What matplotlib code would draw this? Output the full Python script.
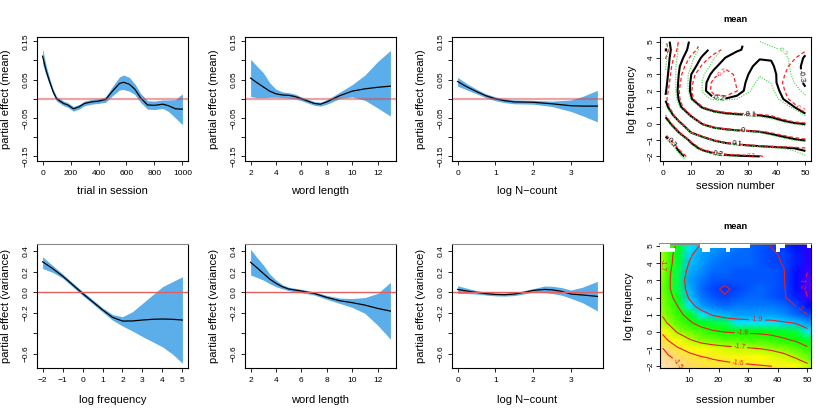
import numpy as np
import matplotlib
matplotlib.use("Agg")
import matplotlib.pyplot as plt
from matplotlib.colors import ListedColormap, Normalize, hsv_to_rgb
from matplotlib.image import NonUniformImage
from matplotlib.patches import Rectangle

plt.rcParams['font.family'] = ['Liberation Sans', 'DejaVu Sans']
plt.rcParams['contour.negative_linestyle'] = 'solid'

# ---- partial effects, mean (top row) ----
trial = [0, 25, 50, 75, 100, 150, 180, 220, 260, 300, 350, 400, 450, 500,
         550, 580, 620, 660, 700, 750, 800, 860, 900, 950, 1000]
trial_fit = [0.111, 0.074, 0.045, 0.019, 0.0, -0.012, -0.016, -0.026, -0.021, -0.012,
             -0.008, -0.006, -0.002, 0.02, 0.04, 0.043, 0.038, 0.025, 0.003, -0.016,
             -0.017, -0.014, -0.018, -0.026, -0.027]
trial_hi = [0.131, 0.087, 0.054, 0.026, 0.006, -0.006, -0.010, -0.020, -0.015, -0.006,
            -0.002, 0.0, 0.005, 0.032, 0.057, 0.062, 0.056, 0.039, 0.015, -0.005,
            -0.006, -0.003, -0.003, -0.002, 0.013]
trial_lo = [0.091, 0.061, 0.036, 0.012, -0.006, -0.018, -0.022, -0.032, -0.027, -0.018,
            -0.014, -0.012, -0.009, 0.008, 0.023, 0.024, 0.020, 0.011, -0.009, -0.027,
            -0.028, -0.025, -0.033, -0.050, -0.067]

wlen = [2, 2.5, 3, 3.5, 4, 4.5, 5, 5.5, 6, 6.5, 7, 7.5, 8, 8.5, 9, 10, 11, 12, 13]
wlen_fit = [0.054, 0.042, 0.031, 0.02, 0.013, 0.01, 0.009, 0.006, 0.0, -0.006, -0.012,
            -0.014, -0.008, 0.0, 0.008, 0.02, 0.026, 0.03, 0.033]
wlen_hi = [0.103, 0.085, 0.068, 0.042, 0.025, 0.018, 0.016, 0.012, 0.005, -0.001, -0.007,
           -0.009, -0.002, 0.007, 0.017, 0.037, 0.062, 0.097, 0.126]
wlen_lo = [0.006, 0.003, 0.003, 0.004, 0.004, 0.003, 0.002, 0.0, -0.005, -0.011, -0.017,
           -0.019, -0.014, -0.007, 0.001, 0.005, -0.004, -0.024, -0.045]

ncount = [0, 0.25, 0.5, 0.75, 1, 1.25, 1.5, 2, 2.5, 3, 3.3, 3.7]
ncount_fit = [0.045, 0.031, 0.019, 0.008, 0.0, -0.005, -0.008, -0.009, -0.013, -0.018, -0.019, -0.019]
ncount_hi = [0.056, 0.039, 0.025, 0.013, 0.005, 0.0, -0.003, -0.004, -0.006, -0.003, 0.006, 0.022]
ncount_lo = [0.033, 0.023, 0.013, 0.003, -0.005, -0.010, -0.013, -0.014, -0.02, -0.033, -0.044, -0.06]

# ---- partial effects, variance (bottom row) ----
lfreq = [-2, -1.5, -1, -0.5, 0, 0.5, 1, 1.5, 2, 2.5, 3, 3.5, 4, 4.5, 5]
lfreq_fit = [0.298, 0.232, 0.159, 0.075, -0.01, -0.09, -0.17, -0.243, -0.279, -0.278,
             -0.269, -0.262, -0.259, -0.262, -0.269]
lfreq_hi = [0.347, 0.262, 0.18, 0.095, 0.01, -0.07, -0.15, -0.215, -0.237, -0.188,
            -0.107, -0.026, 0.055, 0.104, 0.152]
lfreq_lo = [0.233, 0.195, 0.14, 0.055, -0.03, -0.11, -0.19, -0.27, -0.327, -0.376,
            -0.43, -0.48, -0.53, -0.6, -0.69]

wlen_v = [2, 2.5, 3, 3.5, 4, 4.5, 5, 6, 7, 8, 9, 10, 11, 12, 13]
wlen_v_fit = [0.293, 0.24, 0.185, 0.13, 0.088, 0.055, 0.033, 0.013, -0.01, -0.049,
              -0.081, -0.1, -0.124, -0.156, -0.182]
wlen_v_hi = [0.42, 0.34, 0.267, 0.18, 0.12, 0.075, 0.05, 0.03, 0.005, -0.03,
             -0.055, -0.06, -0.05, -0.01, 0.098]
wlen_v_lo = [0.169, 0.145, 0.12, 0.085, 0.055, 0.035, 0.017, -0.004, -0.025, -0.068,
             -0.107, -0.146, -0.205, -0.32, -0.455]

ncount_v = [0, 0.25, 0.5, 0.75, 1, 1.25, 1.5, 1.75, 2, 2.3, 2.5, 2.75, 3, 3.3, 3.7]
ncount_v_fit = [0.029, 0.013, 0.0, -0.012, -0.02, -0.022, -0.016, 0.0, 0.019, 0.029,
                0.025, 0.01, -0.016, -0.025, -0.039]
ncount_v_hi = [0.065, 0.04, 0.018, 0.004, -0.005, -0.007, -0.001, 0.016, 0.036, 0.062,
               0.06, 0.047, 0.023, 0.05, 0.107]
ncount_v_lo = [-0.01, -0.012, -0.016, -0.026, -0.034, -0.036, -0.031, -0.016, 0.002,
               -0.003, -0.01, -0.027, -0.058, -0.1, -0.18]

# ---- session x log frequency surfaces ----
sess_grid = [1, 3, 6, 10, 14, 18, 22, 26, 30, 34, 38, 42, 46, 50]
freq_grid = [-2, -1.5, -1, -0.5, 0, 0.5, 1, 1.5, 2, 2.5, 3, 3.5, 4, 4.5, 5]

te_fit = [
    [0.37, 0.35, 0.315, 0.275, 0.245, 0.222, 0.212, 0.207, 0.203, 0.2, 0.17, 0.15, 0.135, 0.12],
    [0.345, 0.325, 0.285, 0.225, 0.185, 0.16, 0.145, 0.135, 0.127, 0.12, 0.114, 0.108, 0.1, 0.09],
    [0.315, 0.29, 0.245, 0.185, 0.13, 0.095, 0.075, 0.06, 0.048, 0.038, 0.028, 0.018, 0.006, -0.005],
    [0.28, 0.24, 0.19, 0.09, 0.05, 0.03, 0.02, 0.012, 0.007, 0.0, -0.01, -0.025, -0.04, -0.055],
    [0.235, 0.195, 0.11, 0.045, -0.005, -0.03, -0.045, -0.055, -0.062, -0.068, -0.075, -0.085, -0.095, -0.104],
    [0.19, 0.115, 0.05, -0.006, -0.045, -0.072, -0.086, -0.093, -0.097, -0.1, -0.107, -0.125, -0.155, -0.19],
    [0.12, 0.075, 0.008, -0.055, -0.105, -0.13, -0.14, -0.14, -0.14, -0.142, -0.148, -0.17, -0.198, -0.235],
    [0.095, 0.05, -0.01, -0.095, -0.175, -0.197, -0.198, -0.19, -0.175, -0.165, -0.17, -0.198, -0.23, -0.265],
    [0.105, 0.055, -0.02, -0.11, -0.19, -0.225, -0.235, -0.215, -0.19, -0.17, -0.175, -0.21, -0.255, -0.29],
    [0.115, 0.06, -0.015, -0.108, -0.185, -0.23, -0.245, -0.215, -0.195, -0.17, -0.178, -0.225, -0.27, -0.31],
    [0.125, 0.065, -0.01, -0.1, -0.17, -0.215, -0.235, -0.22, -0.2, -0.175, -0.18, -0.225, -0.275, -0.315],
    [0.14, 0.07, 0.0, -0.07, -0.14, -0.19, -0.225, -0.23, -0.21, -0.185, -0.192, -0.225, -0.27, -0.32],
    [0.16, 0.075, 0.02, -0.05, -0.11, -0.16, -0.202, -0.22, -0.215, -0.203, -0.204, -0.215, -0.26, -0.31],
    [0.21, 0.09, 0.035, -0.02, -0.075, -0.125, -0.165, -0.195, -0.208, -0.21, -0.215, -0.225, -0.25, -0.28],
    [0.15, 0.08, 0.04, -0.01, -0.065, -0.11, -0.15, -0.185, -0.205, -0.215, -0.225, -0.235, -0.25, -0.27],
]
te_se = [
    [0.012, 0.01, 0.008, 0.007, 0.007, 0.007, 0.007, 0.007, 0.007, 0.008, 0.009, 0.01, 0.012, 0.016],
    [0.01, 0.008, 0.007, 0.006, 0.005, 0.005, 0.005, 0.005, 0.005, 0.006, 0.007, 0.008, 0.01, 0.013],
    [0.009, 0.007, 0.006, 0.005, 0.004, 0.004, 0.004, 0.004, 0.004, 0.005, 0.006, 0.007, 0.008, 0.011],
    [0.009, 0.007, 0.005, 0.004, 0.004, 0.004, 0.004, 0.004, 0.004, 0.004, 0.005, 0.006, 0.007, 0.01],
    [0.01, 0.007, 0.005, 0.004, 0.004, 0.004, 0.004, 0.004, 0.004, 0.004, 0.005, 0.006, 0.007, 0.01],
    [0.011, 0.008, 0.006, 0.005, 0.005, 0.005, 0.005, 0.005, 0.005, 0.005, 0.006, 0.007, 0.009, 0.012],
    [0.013, 0.01, 0.008, 0.007, 0.007, 0.007, 0.007, 0.007, 0.007, 0.007, 0.008, 0.009, 0.011, 0.015],
    [0.016, 0.013, 0.011, 0.01, 0.01, 0.01, 0.01, 0.01, 0.01, 0.01, 0.011, 0.013, 0.015, 0.02],
    [0.02, 0.017, 0.015, 0.014, 0.014, 0.014, 0.014, 0.014, 0.014, 0.015, 0.016, 0.018, 0.021, 0.027],
    [0.025, 0.022, 0.02, 0.019, 0.019, 0.019, 0.019, 0.019, 0.02, 0.021, 0.023, 0.025, 0.029, 0.036],
    [0.03, 0.027, 0.025, 0.024, 0.024, 0.024, 0.024, 0.025, 0.026, 0.028, 0.031, 0.034, 0.039, 0.047],
    [0.036, 0.033, 0.031, 0.03, 0.03, 0.03, 0.031, 0.032, 0.034, 0.037, 0.041, 0.045, 0.05, 0.058],
    [0.043, 0.04, 0.038, 0.037, 0.037, 0.038, 0.04, 0.042, 0.045, 0.05, 0.055, 0.06, 0.066, 0.072],
    [0.05, 0.047, 0.045, 0.045, 0.046, 0.048, 0.051, 0.055, 0.06, 0.066, 0.072, 0.078, 0.083, 0.088],
    [0.058, 0.055, 0.053, 0.054, 0.056, 0.06, 0.065, 0.07, 0.077, 0.085, 0.092, 0.098, 0.103, 0.108],
]
# grid nodes (row, session) with no data in the partial-effect plot
te_missing = [(14, 14), (14, 18), (14, 22), (14, 26)]

fitted_mean = [
    [-1.43, -1.455, -1.495, -1.535, -1.555, -1.57, -1.578, -1.584, -1.589, -1.594, -1.60, -1.62, -1.645, -1.68],
    [-1.46, -1.485, -1.52, -1.565, -1.592, -1.607, -1.617, -1.625, -1.632, -1.64, -1.652, -1.672, -1.703, -1.74],
    [-1.492, -1.535, -1.585, -1.625, -1.648, -1.662, -1.672, -1.68, -1.688, -1.697, -1.71, -1.728, -1.752, -1.785],
    [-1.575, -1.602, -1.648, -1.69, -1.72, -1.738, -1.75, -1.758, -1.765, -1.77, -1.776, -1.788, -1.805, -1.835],
    [-1.61, -1.655, -1.705, -1.745, -1.772, -1.79, -1.801, -1.805, -1.807, -1.809, -1.815, -1.83, -1.85, -1.88],
    [-1.68, -1.705, -1.75, -1.788, -1.82, -1.845, -1.862, -1.872, -1.877, -1.879, -1.882, -1.89, -1.90, -1.93],
    [-1.705, -1.735, -1.78, -1.82, -1.87, -1.905, -1.92, -1.927, -1.93, -1.93, -1.932, -1.945, -1.968, -1.998],
    [-1.72, -1.75, -1.798, -1.875, -1.925, -1.955, -1.965, -1.963, -1.96, -1.96, -1.963, -1.975, -2.0, -2.045],
    [-1.73, -1.77, -1.83, -1.905, -1.955, -1.985, -1.996, -1.988, -1.978, -1.975, -1.98, -1.993, -2.03, -2.098],
    [-1.735, -1.785, -1.855, -1.92, -1.967, -1.992, -2.006, -1.993, -1.982, -1.978, -1.982, -1.995, -2.04, -2.115],
    [-1.725, -1.785, -1.86, -1.925, -1.96, -1.982, -1.991, -1.988, -1.982, -1.98, -1.985, -1.997, -2.04, -2.115],
    [-1.712, -1.78, -1.855, -1.915, -1.95, -1.97, -1.978, -1.98, -1.98, -1.982, -1.988, -1.998, -2.035, -2.098],
    [-1.695, -1.77, -1.84, -1.902, -1.935, -1.955, -1.965, -1.972, -1.978, -1.985, -1.992, -2.002, -2.03, -2.08],
    [-1.708, -1.77, -1.83, -1.89, -1.925, -1.945, -1.958, -1.968, -1.977, -1.986, -1.995, -2.005, -2.03, -2.075],
    [-1.72, -1.765, -1.81, -1.87, -1.905, -1.93, -1.948, -1.962, -1.975, -1.988, -2.002, -2.015, -2.04, -2.075],
]
# empty (NA) cells along the top of the fitted-mean image: session from/to, freq from/to
na_cells = [(0.15, 3.5, 4.88, 5.12), (0.15, 5.2, 4.64, 4.88), (13.6, 30.5, 4.88, 5.12),
            (14.2, 17.0, 4.64, 4.88), (22.4, 23.7, 4.64, 4.88), (39.3, 42.3, 4.88, 5.12),
            (39.3, 40.6, 4.64, 4.88), (49.7, 51.2, 4.88, 5.12)]

BAND = '#5CAEEA'
TICK_FS = 6
LAB_FS = 8


def topo_colors(n):
    j = n // 3
    k = n // 3
    i = n - j - k
    h = np.concatenate([np.linspace(43 / 60, 31 / 60, i), np.linspace(23 / 60, 11 / 60, j),
                        np.linspace(10 / 60, 6 / 60, k)])
    s = np.concatenate([np.ones(i + j), np.linspace(1, 0.3, k)])
    return hsv_to_rgb(np.stack([h, s, np.ones(n)], axis=1))


def minus(vals):
    return [str(v).replace('-', '\u2212') for v in vals]


def style_axes(ax, ypad=2):
    for sp in ax.spines.values():
        sp.set_linewidth(0.8)
    ax.tick_params(direction='out', length=3, width=0.6, labelsize=TICK_FS)
    ax.tick_params(axis='x', pad=3.5)
    ax.tick_params(axis='y', pad=ypad, labelrotation=90)
    for lab in ax.get_yticklabels():
        lab.set_va('center')


def effect_panel(ax, x, fit, lo, hi, xlim, xticks, xlabel, ylabel, top):
    ax.fill_between(x, lo, hi, color=BAND, lw=0)
    ax.plot(x, fit, color='black', lw=0.9)
    if top:
        ax.axhline(0, color='#D84848', alpha=0.5, lw=1.6)
        ax.set_ylim(-0.162, 0.161)
        ax.set_yticks([-0.15, -0.1, -0.05, 0, 0.05, 0.1, 0.15])
        ax.set_yticklabels(['\u22120.15', '', '\u22120.05', '', '0.05', '', '0.15'])
    else:
        ax.axhline(0, color='#E26060', lw=1.0)
        ax.set_ylim(-0.736, 0.471)
        ax.set_yticks([-0.6, -0.4, -0.2, 0, 0.2, 0.4])
        ax.set_yticklabels(['\u22120.6', '', '\u22120.2', '0.0', '0.2', '0.4'])
        ax.spines['top'].set_color('#8a8a8a')
        ax.spines['top'].set_linewidth(1.3)
    ax.set_xlim(*xlim)
    ax.set_xticks(xticks)
    ax.set_xticklabels(minus(xticks))
    ax.set_xlabel(xlabel, fontsize=LAB_FS)
    ax.set_ylabel(ylabel, fontsize=LAB_FS)
    style_axes(ax)
    ax.xaxis.set_label_coords(0.5, -0.2 if top else -0.22)
    ax.yaxis.set_label_coords(-0.175, 0.5)


fig = plt.figure(figsize=(8.3, 4.15), dpi=100)
W, H = 151 / 830, 124 / 415
lefts = [37 / 830, 245 / 830, 452 / 830, 660 / 830]
top_b, bot_b = 1 - 161 / 415, 1 - 368 / 415

ax = fig.add_axes([lefts[0], top_b, W, H])
effect_panel(ax, trial, trial_fit, trial_lo, trial_hi, (-40, 1040), [0, 200, 400, 600, 800, 1000],
             'trial in session', 'partial effect (mean)', True)
ax = fig.add_axes([lefts[1], top_b, W, H])
effect_panel(ax, wlen, wlen_fit, wlen_lo, wlen_hi, (1.56, 13.44), [2, 4, 6, 8, 10, 12],
             'word length', 'partial effect (mean)', True)
ax = fig.add_axes([lefts[2], top_b, W, H])
effect_panel(ax, ncount, ncount_fit, ncount_lo, ncount_hi, (-0.148, 3.848), [0, 1, 2, 3],
             'log N\u2212count', 'partial effect (mean)', True)

ax = fig.add_axes([lefts[0], bot_b, W, H])
effect_panel(ax, lfreq, lfreq_fit, lfreq_lo, lfreq_hi, (-2.28, 5.28), [-2, -1, 0, 1, 2, 3, 4, 5],
             'log frequency', 'partial effect (variance)', False)
ax = fig.add_axes([lefts[1], bot_b, W, H])
effect_panel(ax, wlen_v, wlen_v_fit, wlen_v_lo, wlen_v_hi, (1.56, 13.44), [2, 4, 6, 8, 10, 12],
             'word length', 'partial effect (variance)', False)
ax = fig.add_axes([lefts[2], bot_b, W, H])
effect_panel(ax, ncount_v, ncount_v_fit, ncount_v_lo, ncount_v_hi, (-0.148, 3.848), [0, 1, 2, 3],
             'log N\u2212count', 'partial effect (variance)', False)

# ---- top right: te(session, log frequency) contours with +/- 1 se ----
S, F = np.meshgrid(sess_grid, freq_grid)
fit = np.array(te_fit)
se = np.array(te_se)
mask = np.zeros_like(fit, dtype=bool)
for r, c in te_missing:
    mask[r, sess_grid.index(c)] = True
levels = [-0.3, -0.2, -0.1, 0, 0.1, 0.2, 0.3]

ax = fig.add_axes([lefts[3], top_b, W, H])
cs = ax.contour(S, F, np.ma.array(fit, mask=mask), levels=levels, colors='black', linewidths=1.5)
ax.clabel(cs, fmt='%g', fontsize=5.5, inline=True, inline_spacing=1,
          manual=[(19.5, 1.55), (30.5, 0.55), (28.2, -0.37), (26, -1.16), (19.4, -1.9),
                  (3.6, -1.12), (49, 2.9)])
cs_hi = ax.contour(S, F, np.ma.array(fit + se, mask=mask), levels=levels, colors='#FF2020',
                   linewidths=0.9, linestyles=[(0, (3, 2))])
ax.clabel(cs_hi, fmt='%g', fontsize=4.5, inline=True, inline_spacing=1,
          manual=[(21.5, 2.95), (31, -1.95), (48.5, 1.0)])
cs_lo = ax.contour(S, F, np.ma.array(fit - se, mask=mask), levels=levels, colors='#44CC44',
                   linewidths=0.8, linestyles=[(0, (1, 1.3))])
ax.clabel(cs_lo, fmt='%g', fontsize=4.5, inline=True, inline_spacing=1,
          manual=[(20, 1.3), (42, 4.4), (8, -1.95)])
ax.set_xlim(-0.96, 51.96)
ax.set_ylim(-2.28, 5.28)
ax.set_xticks([0, 10, 20, 30, 40, 50])
ax.set_yticks(range(-2, 6))
ax.set_yticklabels(minus(range(-2, 6)))
ax.set_title('mean', fontsize=6.7, fontweight='bold', pad=11)
ax.set_xlabel('session number', fontsize=LAB_FS)
ax.set_ylabel('log frequency', fontsize=LAB_FS)
style_axes(ax, ypad=1)
ax.xaxis.set_label_coords(0.5, -0.16)
ax.yaxis.set_label_coords(-0.15, 0.5)

# ---- bottom right: fitted mean image with contours ----
ax = fig.add_axes([lefts[3], bot_b, W, H])
zmean = np.array(fitted_mean)
cmap = ListedColormap(topo_colors(50))
im = NonUniformImage(ax, interpolation='bilinear', extent=(0.15, 51.2, -2.1, 5.12), cmap=cmap,
                     norm=Normalize(zmean.min(), zmean.max()))
im.set_data(sess_grid, freq_grid, zmean)
ax.add_image(im)
for x0, x1, y0, y1 in na_cells:
    ax.add_patch(Rectangle((x0, y0), x1 - x0, y1 - y0, facecolor='white', edgecolor='none', zorder=3))
cs2 = ax.contour(S, F, zmean, levels=[-2.1, -2.0, -1.9, -1.8, -1.7, -1.6, -1.5], colors='#E8201C',
                 linewidths=0.8, zorder=2)
ax.clabel(cs2, fmt='%g', fontsize=5, inline=True, inline_spacing=1,
          manual=[(1.3, 3.9), (33, 0.83), (47, 1.25), (49.6, 2.8), (28, -0.1), (27, -0.9),
                  (26.6, -1.7), (7.5, -1.7)])
ax.set_xlim(0.15, 51.2)
ax.set_ylim(-2.1, 5.12)
ax.set_xticks([10, 20, 30, 40, 50])
ax.set_yticks(range(-2, 6))
ax.set_yticklabels(minus(range(-2, 6)))
ax.set_title('mean', fontsize=6.7, fontweight='bold', pad=11)
ax.set_xlabel('session number', fontsize=LAB_FS)
ax.set_ylabel('log frequency', fontsize=LAB_FS)
style_axes(ax, ypad=1)
ax.spines['top'].set_color('#8a8a8a')
ax.spines['top'].set_linewidth(1.3)
ax.xaxis.set_label_coords(0.5, -0.22)
ax.yaxis.set_label_coords(-0.17, 0.5)

fig.savefig('out.png', dpi=100)
